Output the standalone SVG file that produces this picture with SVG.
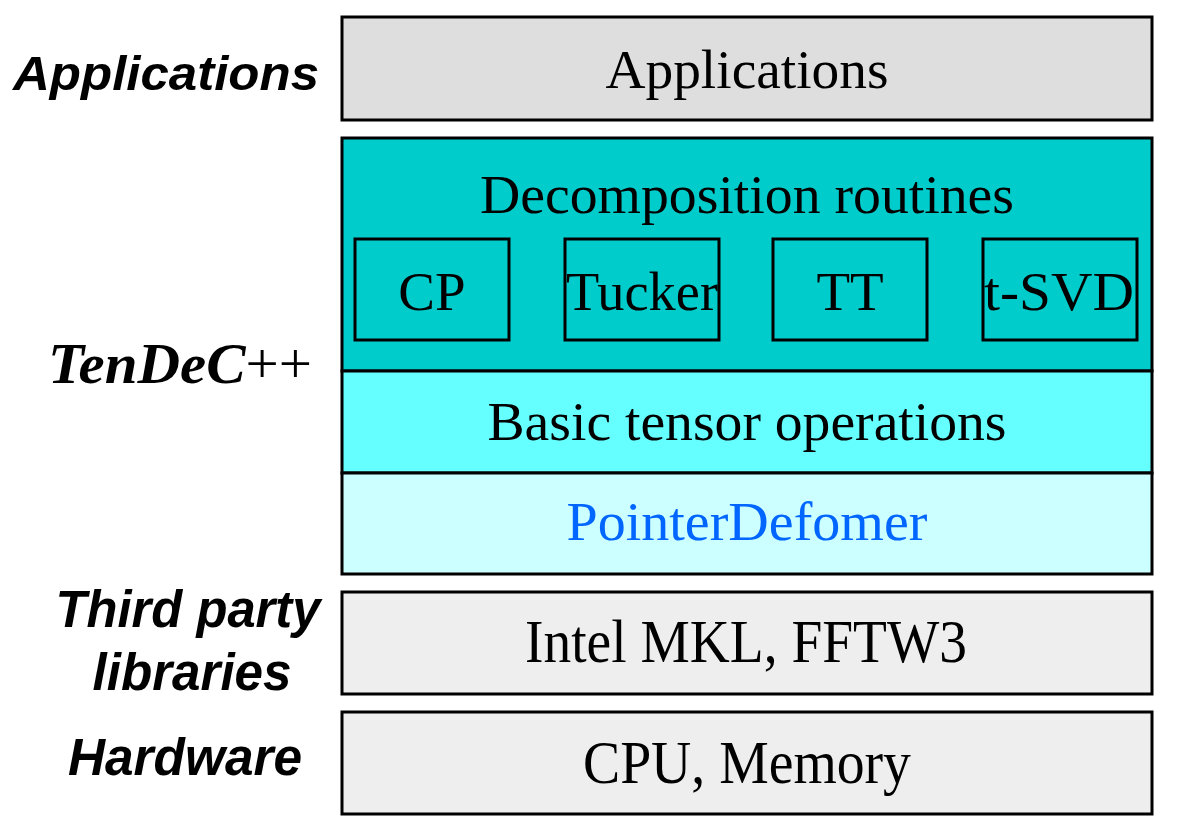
<svg xmlns="http://www.w3.org/2000/svg" width="1178" height="829" viewBox="0 0 1178 829">
<style>
.box{stroke:#000;stroke-width:3}
.sub{fill:none;stroke:#000;stroke-width:3}
.t{font-family:"Liberation Serif","Times New Roman",serif;font-size:55px;text-anchor:middle;fill:#000}
.lab{font-family:"Liberation Sans",Arial,sans-serif;font-size:48px;font-weight:bold;font-style:italic;text-anchor:middle;fill:#000}
</style>
<rect width="1178" height="829" fill="#fff"/>
<g id="label-applications"><text class="lab" x="166" y="90" textLength="306" lengthAdjust="spacingAndGlyphs">Applications</text></g>
<g id="label-tendec"><text x="180" y="383" text-anchor="middle" font-family="Liberation Serif,'Times New Roman',serif" font-size="56" textLength="264" lengthAdjust="spacingAndGlyphs"><tspan font-weight="bold" font-style="italic">TenDeC</tspan><tspan>++</tspan></text></g>
<g id="label-third"><text class="lab" x="188" y="627" textLength="265" lengthAdjust="spacingAndGlyphs" transform="translate(0 627) scale(1 1.08) translate(0 -627)">Third party</text><text class="lab" x="192" y="690" textLength="199" lengthAdjust="spacingAndGlyphs" transform="translate(0 690) scale(1 1.08) translate(0 -690)">libraries</text></g>
<g id="label-hardware"><text class="lab" x="185" y="775" textLength="234" lengthAdjust="spacingAndGlyphs" transform="translate(0 775) scale(1 1.08) translate(0 -775)">Hardware</text></g>
<g id="applications"><rect class="box" x="342" y="17" width="810" height="103" fill="#dedede"/><text class="t" x="747" y="88" textLength="283" lengthAdjust="spacingAndGlyphs">Applications</text></g>
<g id="decomposition"><rect class="box" x="342" y="138" width="810" height="233" fill="#00cccc"/><text class="t" x="747" y="213" textLength="534" lengthAdjust="spacingAndGlyphs">Decomposition routines</text></g>
<g id="cp"><rect class="sub" x="355" y="239" width="154" height="101"/><text class="t" x="432" y="310">CP</text></g>
<g id="tucker"><rect class="sub" x="565" y="239" width="154" height="101"/><text class="t" x="642" y="310" textLength="152" lengthAdjust="spacingAndGlyphs">Tucker</text></g>
<g id="tt"><rect class="sub" x="773" y="239" width="154" height="101"/><text class="t" x="850" y="310">TT</text></g>
<g id="tsvd"><rect class="sub" x="983" y="239" width="154" height="101"/><text class="t" x="1059" y="310" textLength="150" lengthAdjust="spacingAndGlyphs">t-SVD</text></g>
<g id="basic"><rect class="box" x="342" y="371" width="810" height="102" fill="#66ffff"/><text class="t" x="747" y="440" textLength="519" lengthAdjust="spacingAndGlyphs">Basic tensor operations</text></g>
<g id="pointer"><rect class="box" x="342" y="473" width="810" height="101" fill="#ccffff"/><text class="t" x="747" y="540" style="fill:#0066ff" textLength="361" lengthAdjust="spacingAndGlyphs">PointerDefomer</text></g>
<g id="third"><rect class="box" x="342" y="592" width="810" height="102" fill="#eeeeee"/><text class="t" x="746" y="662" textLength="442" lengthAdjust="spacingAndGlyphs" transform="translate(0 662) scale(1 1.1) translate(0 -662)">Intel MKL, FFTW3</text></g>
<g id="hardware"><rect class="box" x="342" y="712" width="810" height="102" fill="#eeeeee"/><text class="t" x="747" y="783" textLength="328" lengthAdjust="spacingAndGlyphs" transform="translate(0 783) scale(1 1.1) translate(0 -783)">CPU, Memory</text></g>
<g id="connectors"></g>
</svg>
